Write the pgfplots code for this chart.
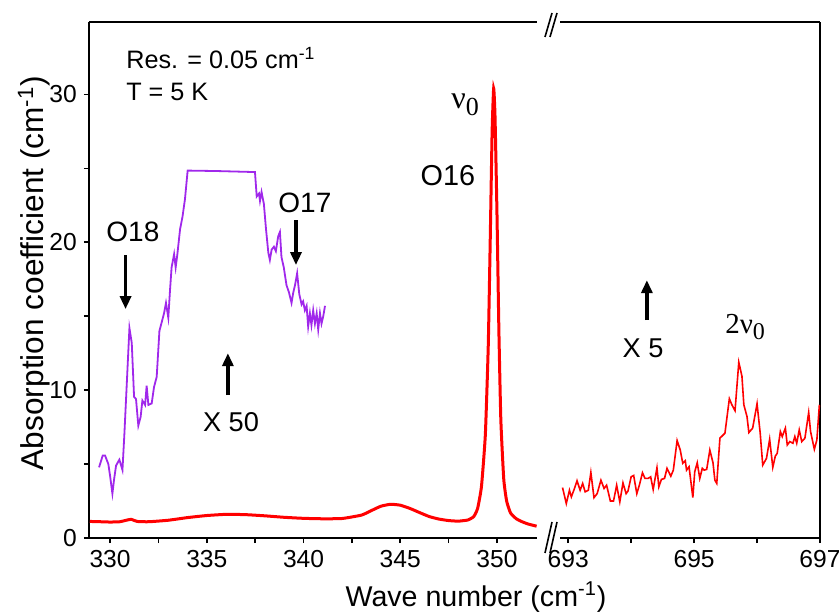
\documentclass[border=0pt]{standalone}
\usepackage{fontspec}
\setmainfont{Liberation Sans}
\newfontfamily\seriffont{Liberation Serif}
\usepackage{pgfplots}
\pgfplotsset{compat=1.18}
\usetikzlibrary{arrows.meta}
\definecolor{myred}{RGB}{255,0,0}
\definecolor{mypurple}{RGB}{160,40,235}
\begin{document}
\begin{tikzpicture}
\useasboundingbox (-44.5pt,-38.5pt) rectangle (375pt,269pt);
\pgfplotsset{
  myax/.style={
    scale only axis, height=258pt, ymin=0, ymax=34.9,
    tick align=outside, major tick length=2.6pt, minor tick length=2.6pt,
    axis line style={line width=0.9pt, black},
    every tick/.style={black, line width=0.8pt},
    tick label style={font=\fontsize{12.3}{14}\selectfont},
    /pgf/number format/assume math mode=true,
    xtick pos=bottom,
  }
}
% ---------------- left panel ----------------
\begin{axis}[myax, at={(0pt,0pt)}, anchor=south west, width=224pt,
  xmin=328.91, xmax=352.07,
  axis y line*=left,
  xtick={330,335,340,345,350}, minor xtick={332.5,337.5,342.5,347.5},
  ytick={0,10,20,30}, minor ytick={5,15,25}, ytick pos=left,
]
\addplot[myred, line width=1.5pt, smooth, tension=0.3] coordinates {
(328.95,1.12) (329.5,1.10) (330.0,1.08) (330.5,1.10) (330.9,1.22) (331.1,1.26)
(331.4,1.12) (332,1.10) (333,1.20) (334,1.38) (335,1.52) (336,1.60) (337,1.58)
(338,1.50) (339,1.40) (340,1.33) (341,1.30) (342,1.32) (343,1.55) (343.5,1.85)
(344,2.15) (344.5,2.28) (345,2.22) (345.5,2.0) (346,1.72) (346.5,1.45) (347,1.28)
(347.5,1.18) (348,1.14) (348.5,1.22) (348.8,1.45) (349.0,2.0) (349.2,3.5)
(349.4,7.0) (349.55,13.0) (349.65,20.0) (349.75,27.5) (349.83,30.4) (349.9,28.5)
(350.0,22.0) (350.1,14.0) (350.2,8.0) (350.35,4.0) (350.5,2.5) (350.7,1.7)
(351.0,1.3) (351.3,1.1) (351.6,0.95) (352.05,0.8)
};
\addplot[mypurple, line width=0.9pt] coordinates {
(329.43,4.78) (329.62,5.58) (329.74,5.58) (329.91,5.0) (330.0,4.2) (330.12,3.0)
(330.21,4.0) (330.31,4.9) (330.48,5.3) (330.64,4.6) (330.74,7.05) (331.0,14.2)
(331.12,13.2) (331.24,9.55) (331.34,9.4) (331.46,7.6) (331.58,8.2) (331.67,9.3)
(331.81,9.0) (331.89,10.3) (331.98,9.0) (332.15,9.1) (332.27,10.2) (332.41,10.9)
(332.55,14.0) (332.67,14.6) (332.79,15.2) (332.89,15.9) (333.01,14.9) (333.10,16.8)
(333.18,18.3) (333.31,19.2) (333.39,18.3) (333.47,19.1) (333.62,20.9) (333.74,21.7)
(333.87,22.9) (334.01,24.85) (335.5,24.82) (337.49,24.75) (337.58,23.1) (337.70,23.3)
(337.75,22.8) (337.83,23.4) (337.95,22.6) (338.06,20.9) (338.18,19.3) (338.26,18.8)
(338.35,19.5) (338.47,19.7) (338.57,19.4) (338.69,20.4) (338.78,20.7) (338.86,19.0)
(338.98,18.3) (339.12,17.1) (339.25,16.6) (339.38,15.9) (339.47,16.6) (339.56,17.1)
(339.67,17.9) (339.78,16.5) (339.90,15.8) (339.98,16.0) (340.07,15.4) (340.16,15.7)
(340.24,14.3) (340.33,15.2) (340.41,14.4) (340.50,15.4) (340.59,14.5) (340.68,15.2)
(340.76,14.1) (340.85,15.2) (340.93,14.5) (341.02,15.0) (341.11,15.7)
};
\node[anchor=base west, inner sep=0pt, font=\fontsize{12.6}{15}\selectfont] at (axis cs:330.82,31.78) {Res. = 0.05 cm\textsuperscript{-1}};
\node[anchor=base west, inner sep=0pt, font=\fontsize{12.6}{15}\selectfont] at (axis cs:330.82,29.6) {T = 5 K};
\node[font=\fontsize{14}{16}\selectfont] at (axis cs:331.18,20.7) {O18};
\node[font=\fontsize{14}{16}\selectfont] at (axis cs:340.07,22.65) {O17};
\node[font=\fontsize{13.6}{16}\selectfont] at (axis cs:336.25,7.84) {X 50};
\node[font=\fontsize{14.4}{16}\selectfont] at (axis cs:347.46,24.48) {O16};
\node[font=\seriffont\fontsize{16}{18}\selectfont] at (axis cs:348.35,29.3) {ν\raisebox{-0.45ex}{\fontsize{13}{13}\selectfont 0}};
\draw[line width=1.7pt, -{Triangle[length=6.5pt,width=5.5pt]}] (axis cs:330.8,19.13) -- (axis cs:330.8,15.48);
\draw[line width=1.7pt, -{Triangle[length=6.5pt,width=5.5pt]}] (axis cs:339.61,21.5) -- (axis cs:339.61,18.46);
\draw[line width=1.7pt, -{Triangle[length=6.5pt,width=5.5pt]}] (axis cs:336.09,9.67) -- (axis cs:336.09,12.5);
\end{axis}
% ---------------- right panel ----------------
\begin{axis}[myax, at={(235.5pt,0pt)}, anchor=south west, width=130pt,
  xmin=692.87, xmax=697,
  axis y line*=right,
  xtick={693,695,697}, minor xtick={694,696},
  ytick=\empty,
]
\addplot[myred, line width=0.8pt] coordinates {
(692.91,3.41) (692.97,2.33) (693.02,3.23) (693.05,2.78) (693.10,3.35) (693.14,3.87)
(693.19,3.23) (693.23,3.69) (693.27,3.12) (693.32,3.23) (693.36,4.43) (693.41,2.73)
(693.46,3.0) (693.52,3.91) (693.57,3.35) (693.61,3.57) (693.67,2.50) (693.72,2.50)
(693.77,3.57) (693.82,2.44) (693.87,3.73) (693.92,3.0) (693.95,3.18) (694.00,4.14)
(694.04,4.23) (694.09,3.0) (694.13,3.57) (694.18,4.41) (694.22,4.03) (694.27,4.03)
(694.31,4.14) (694.35,3.28) (694.41,4.75) (694.44,3.46) (694.48,3.96) (694.53,4.03)
(694.57,4.71) (694.63,4.18) (694.67,4.59) (694.73,6.59) (694.78,5.95) (694.82,5.05)
(694.86,5.22) (694.88,4.59) (694.92,4.82) (694.98,2.73) (695.01,4.48) (695.05,5.09)
(695.09,4.03) (695.13,4.71) (695.16,4.59) (695.20,4.64) (695.25,5.95) (695.30,5.09)
(695.33,3.91) (695.36,3.69) (695.41,6.75) (695.49,7.09) (695.56,9.42) (695.60,9.01)
(695.65,8.61) (695.71,11.89) (695.76,10.94) (695.79,9.01) (695.84,8.22) (695.87,7.13)
(695.93,7.43) (696.00,9.08) (696.05,7.09) (696.09,4.93) (696.15,5.39) (696.20,6.68)
(696.25,4.78) (696.29,5.54) (696.32,5.73) (696.37,7.20) (696.40,6.86) (696.45,7.43)
(696.48,6.29) (696.52,6.52) (696.57,6.41) (696.60,6.86) (696.63,6.41) (696.67,7.31)
(696.71,6.52) (696.76,6.75) (696.82,8.49) (696.85,7.20) (696.91,6.0) (696.95,6.63)
(696.99,9.01)
};
\node[font=\fontsize{13.6}{16}\selectfont] at (axis cs:694.19,12.85) {X 5};
\node[font=\seriffont\fontsize{14.5}{16}\selectfont] at (axis cs:695.81,14.3) {2ν\raisebox{-0.45ex}{\fontsize{12}{12}\selectfont 0}};
\draw[line width=1.7pt, -{Triangle[length=6.5pt,width=5.5pt]}] (axis cs:694.25,14.74) -- (axis cs:694.25,17.44);
\end{axis}
% axis break marks
\draw[line width=0.8pt] (228pt,-7.5pt) -- (231.5pt,8pt) (230.5pt,-7.5pt) -- (234pt,8pt);
\draw[line width=0.8pt] (228pt,250.5pt) -- (231.5pt,262.5pt) (230.5pt,250.5pt) -- (234pt,262.5pt);
% axis labels
\node[font=\fontsize{14.3}{17}\selectfont] at (193.5pt,-29.5pt) {Wave number (cm\textsuperscript{-1})};
\node[font=\fontsize{15.8}{18}\selectfont, rotate=90] at (-27.5pt,132.5pt) {Absorption coefficient (cm\textsuperscript{-1})};
\end{tikzpicture}
\end{document}
